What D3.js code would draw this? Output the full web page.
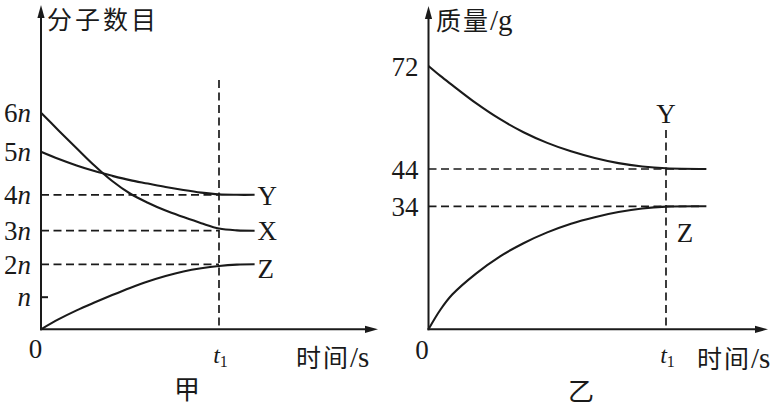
<!DOCTYPE html>
<html><head><meta charset="utf-8">
<script src="https://cdn.jsdelivr.net/npm/d3@7"></script>
<style>body{margin:0;background:#fff} svg{display:block}</style>
</head><body>
<svg id="c" width="777" height="408"></svg>
<script>
// ---------- data: panel 甲 (molecule count vs time) ----------
const timesA = [0,1,2,3,4,5,6,7,8,9,10,11,12];
const moleculesX = [6.0,5.54,5.09,4.68,4.32,4.03,3.78,3.56,3.38,3.21,3.06,3.01,3.0];
const moleculesY = [5.0,4.83,4.68,4.55,4.44,4.34,4.26,4.18,4.11,4.05,4.01,4.0,4.0];
const moleculesZ = [0,0.31,0.58,0.82,1.05,1.27,1.47,1.64,1.78,1.88,1.95,1.99,2.0];
const tickValuesA = [1,2,3,4,5,6];
const tickPrefixA = ["","2","3","4","5","6"];
const refLinesA = [2,3,4];
const seriesNamesA = ["Y","X","Z"];
const t1A = 10;

// ---------- data: panel 乙 (mass vs time) ----------
const timesB = [0,0.5,1,2,3,4,5,6,7,8,9,10,11.7];
const massY = [72,69.3,66.8,61.9,57.6,54.0,51.1,48.8,47.0,45.6,44.7,44.2,44.0];
const massZ = [0,5.4,9.6,15.4,20.1,23.8,26.8,29.2,31.0,32.4,33.4,33.9,34.0];
const tickValuesB = [34,44,72];
const refLinesB = [34,44];
const seriesNamesB = ["Y","Z"];
const t1B = 10;

const serif = "'Liberation Serif','Times New Roman',serif";
const cjk = "'Noto Sans CJK SC','Noto Sans CJK TC',sans-serif";
const ink = "#1a1a1a";

const svg = d3.select("#c");

// scales
const xA = d3.scaleLinear().domain([0,10]).range([41,219]);
const yA = d3.scaleLinear().domain([0,1,2,3,4,5,6]).range([329.3,296.7,264.3,230.7,194.8,151.7,112.7]);
const xB = d3.scaleLinear().domain([0,10]).range([428.5,666]);
const yB = d3.scaleLinear().domain([0,34,44,72]).range([329.3,206.3,169,66]);

function arrowAxes(x0, y0, xTip, yTip) {
  const g = svg.append("g").attr("stroke", ink).attr("fill", ink);
  g.append("line").attr("x1",x0).attr("y1",y0+1).attr("x2",x0).attr("y2",yTip+8).attr("stroke-width",2);
  g.append("path").attr("d",`M${x0},${yTip} L${x0-3.6},${yTip+13} L${x0+3.6},${yTip+13} Z`).attr("stroke","none");
  g.append("line").attr("x1",x0-1).attr("y1",y0).attr("x2",xTip-8).attr("y2",y0).attr("stroke-width",2);
  g.append("path").attr("d",`M${xTip},${y0} L${xTip-13},${y0-3.6} L${xTip-13},${y0+3.6} Z`).attr("stroke","none");
}

const line = (xs, ys, times) => d3.line().x((d,i)=>xs(times[i])).y(d=>ys(d)).curve(d3.curveCatmullRom.alpha(0.5));

function styleText(sel, size, fam) {
  sel.attr("font-family", fam).attr("font-size", size).attr("fill", ink);
}
const dash = "8,4.5";

// =============== Panel A ===============
svg.append("g").selectAll("line").data(refLinesA).join("line")
  .attr("x1", xA(0)).attr("x2", xA(t1A)).attr("y1", d=>yA(d)).attr("y2", d=>yA(d))
  .attr("stroke", ink).attr("stroke-width",1.7).attr("stroke-dasharray",dash);
svg.append("line").attr("x1", xA(t1A)).attr("x2", xA(t1A)).attr("y1", 80).attr("y2", yA(0))
  .attr("stroke", ink).attr("stroke-width",1.7).attr("stroke-dasharray",dash);

arrowAxes(xA(0), yA(0), 378, 5);

const gyA = svg.append("g").attr("transform",`translate(${xA(0)},0)`)
  .call(d3.axisLeft(yA).tickValues(tickValuesA).tickSize(0).tickPadding(10).tickFormat(""));
gyA.select(".domain").remove();
gyA.selectAll(".tick text").each(function(d,i){
  const t = d3.select(this);
  t.append("tspan").text(tickPrefixA[i]);
  t.append("tspan").attr("font-style","italic").text("n");
}).call(styleText, 27, serif).attr("dy","0.34em");
const gtA = svg.append("g").attr("transform",`translate(${xA(0)},0)`)
  .call(d3.axisRight(yA).tickValues([1]).tickSize(7).tickFormat(""));
gtA.select(".domain").remove();
gtA.selectAll(".tick line").attr("stroke", ink).attr("stroke-width",2);

const gxA = svg.append("g").attr("transform",`translate(0,${yA(0)})`)
  .call(d3.axisBottom(xA).tickValues([0,t1A]).tickSize(0).tickPadding(0).tickFormat(""));
gxA.select(".domain").remove();
gxA.selectAll(".tick text").each(function(d){
  const t = d3.select(this);
  if (d === 0) { t.text("0").attr("dx",-6).attr("dy",29).call(styleText,27,serif); }
  else {
    t.attr("dx",1).attr("dy",34).call(styleText,24,serif);
    t.append("tspan").attr("font-style","italic").text("t");
    t.append("tspan").attr("font-size",16).attr("dy",4).text("1");
  }
});

const seriesA = [moleculesY, moleculesX, moleculesZ];
svg.append("g").selectAll("path").data(seriesA).join("path")
  .attr("d", d => line(xA, yA, timesA)(d))
  .attr("fill","none").attr("stroke", ink).attr("stroke-width",2.1);
svg.append("g").selectAll("text").data(seriesA).join("text")
  .attr("x", d => xA(timesA[timesA.length-1]) + 3)
  .attr("y", d => yA(d[d.length-1]))
  .attr("dy", (d,i)=> i===2 ? "0.5em" : "0.36em")
  .text((d,i)=>seriesNamesA[i]).call(styleText, 27, serif);

svg.append("text").attr("x",47).attr("y",29).attr("letter-spacing",3).text("分子数目").call(styleText,25,cjk);
const xtA = svg.append("text").attr("x",296).attr("y",367).call(styleText,25,cjk);
xtA.append("tspan").attr("letter-spacing",2).text("时间");
xtA.append("tspan").attr("font-family",serif).attr("font-size",29).text("/s");
svg.append("text").attr("x",187).attr("y",399).attr("text-anchor","middle").text("甲").call(styleText,26,cjk);

// =============== Panel B ===============
svg.append("g").selectAll("line").data(refLinesB).join("line")
  .attr("x1", xB(0)).attr("x2", xB(11.4)).attr("y1", d=>yB(d)).attr("y2", d=>yB(d))
  .attr("stroke", ink).attr("stroke-width",1.7).attr("stroke-dasharray",dash);
svg.append("line").attr("x1", xB(t1B)).attr("x2", xB(t1B)).attr("y1", 130).attr("y2", yB(0))
  .attr("stroke", ink).attr("stroke-width",1.7).attr("stroke-dasharray",dash);

arrowAxes(xB(0), yB(0), 768, 6);

const gyB = svg.append("g").attr("transform",`translate(${xB(0)},0)`)
  .call(d3.axisLeft(yB).tickValues(tickValuesB).tickSize(0).tickPadding(10).tickFormat(d3.format("d")));
gyB.select(".domain").remove();
gyB.selectAll(".tick text").call(styleText, 27, serif).attr("dy","0.34em");

const gxB = svg.append("g").attr("transform",`translate(0,${yB(0)})`)
  .call(d3.axisBottom(xB).tickValues([0,t1B]).tickSize(0).tickPadding(0).tickFormat(""));
gxB.select(".domain").remove();
gxB.selectAll(".tick text").each(function(d){
  const t = d3.select(this);
  if (d === 0) { t.text("0").attr("dx",-7).attr("dy",30).call(styleText,27,serif); }
  else {
    t.attr("dx",1).attr("dy",34).call(styleText,24,serif);
    t.append("tspan").attr("font-style","italic").text("t");
    t.append("tspan").attr("font-size",16).attr("dy",4).text("1");
  }
});

const seriesB = [massY, massZ];
svg.append("g").selectAll("path").data(seriesB).join("path")
  .attr("d", d => line(xB, yB, timesB)(d))
  .attr("fill","none").attr("stroke", ink).attr("stroke-width",2.1);
svg.append("text").attr("x", xB(t1B)).attr("y", 123).attr("text-anchor","middle")
  .text(seriesNamesB[0]).call(styleText, 27, serif);
svg.append("text").attr("x", xB(t1B)+19).attr("y", 242).attr("text-anchor","middle")
  .text(seriesNamesB[1]).call(styleText, 27, serif);

const ytB = svg.append("text").attr("x",436).attr("y",30).call(styleText,25,cjk);
ytB.append("tspan").attr("letter-spacing",2).text("质量");
ytB.append("tspan").attr("font-family",serif).attr("font-size",29).text("/g");
const xtB = svg.append("text").attr("x",697).attr("y",368).call(styleText,25,cjk);
xtB.append("tspan").attr("letter-spacing",2).text("时间");
xtB.append("tspan").attr("font-family",serif).attr("font-size",29).text("/s");
svg.append("text").attr("x",581).attr("y",401).attr("text-anchor","middle").text("乙").call(styleText,26,cjk);
</script>
</body></html>
